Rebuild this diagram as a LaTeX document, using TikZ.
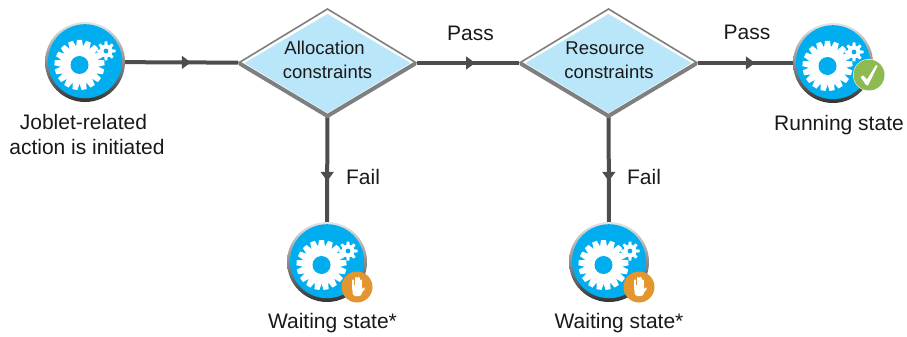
\documentclass[tikz,border=0pt]{standalone}
\usepackage{fontspec}
\setmainfont{Liberation Sans}
\usetikzlibrary{shapes.geometric,decorations.markings,arrows.meta}
\definecolor{line}{HTML}{4D4D4D}
\definecolor{bez}{HTML}{7F7F7F}
\definecolor{dfill}{HTML}{BAE6FA}
\definecolor{ico}{HTML}{00AEEF}
\definecolor{orangeb}{HTML}{E3962F}
\definecolor{greenb}{HTML}{8DBB52}
\tikzset{
 flow/.style={draw=line,line width=4pt,postaction={decorate},decoration={markings,mark=at position #1 with {\arrow[line width=1pt]{Triangle[length=9pt,width=13pt]}}}},
 dec/.style={diamond,minimum width=179pt,minimum height=108pt,aspect=1.657,inner sep=0pt},
 iconnode/.style={circle,minimum size=80pt,inner sep=0pt},
 lbl/.style={font=\fontsize{21}{25}\selectfont,inner sep=0pt,align=center,text=black!90},
 dlbl/.style={font=\fontsize{18.5}{24}\selectfont,inner sep=0pt,align=center,text=black!90},
}
\newcommand{\bigwheel}[1]{%
  \foreach \a in {0,21.18,...,359}{
    \fill[white,shift={#1},rotate=\a] (-3.6,-17.5) -- (-2.5,-25) -- (2.5,-25) -- (3.6,-17.5) -- cycle;
  }
  \fill[white] #1 circle (19);
  \fill[ico] #1 circle (9);
}
\newcommand{\smallwheel}[1]{%
  \foreach \a in {0,45,...,359}{
    \fill[white,shift={#1},rotate=\a] (-1.8,-5) -- (-1.3,-9.5) -- (1.3,-9.5) -- (1.8,-5) -- cycle;
  }
  \fill[white] #1 circle (6.3);
  \fill[ico] #1 circle (2.4);
}
\newcommand{\icondraw}[1]{%
  \begin{scope}[shift={(#1)}]
  \shade[top color=black!10,bottom color=black!80] (0,0) circle (40);
  \fill[ico] (0,-0.8) circle (37);
  \smallwheel{(21,-11)}
  \bigwheel{(-5.5,3)}
  \end{scope}
}
\newcommand{\hand}[1]{%
  \begin{scope}[shift={(#1)}]
  \fill[orangeb] (0,0) circle (15.5);
  \fill[white,rounded corners=2.5pt] (-5.2,-2) -- (5.2,-2) -- (4.6,9) -- (-4,9) -- cycle;
  \draw[white,line width=2.2pt,line cap=round] (-4.1,1) -- (-4.1,-6.5);
  \draw[white,line width=2.2pt,line cap=round] (-1.4,1) -- (-1.4,-9);
  \draw[white,line width=2.2pt,line cap=round] (1.4,1) -- (1.4,-9);
  \draw[white,line width=2.2pt,line cap=round] (4.1,1) -- (4.1,-6.5);
  \draw[white,line width=2.2pt,line cap=round] (4.6,4.5) -- (6.8,1.5);
  \end{scope}
}
\newcommand{\tick}[1]{%
  \begin{scope}[shift={(#1)}]
  \fill[white] (0,0) circle (16);
  \fill[greenb] (0,0) circle (15.5);
  \fill[white] (-8.5,2) -- (-6,0.5) -- (-2,4.5) -- (7,-10) -- (8.5,-9) -- (-1,10.5) -- (-3,10) -- cycle;
  \end{scope}
}
\newcommand{\diamonddraw}[1]{%
  \begin{scope}[shift={(#1)}]
  \fill[white] (-89,0) -- (0,-53) -- (89,0) -- (0,54) -- cycle;
  \fill[dfill] (-83,0) -- (0,-49) -- (83,0) -- (0,50) -- cycle;
  \draw[bez,line width=1.6pt,line join=miter] (-89,0) -- (0,-54) -- (89,0);
  \draw[bez,line width=4pt,line join=miter,line cap=round] (-87,1) -- (0,53) -- (87,1);
  \end{scope}
}
\begin{document}
\begin{tikzpicture}[x=1pt,y=-1pt]
\useasboundingbox (0,0) rectangle (907,337);
\node[iconnode] (start) at (85,62) {};
\node[iconnode] (wait1) at (327,262) {};
\node[iconnode] (wait2) at (609,262) {};
\node[iconnode] (run) at (833,63) {};
\node[dec] (d1) at (327.5,63) {};
\node[dec] (d2) at (608.5,63) {};
\draw[flow=0.58] (start) -- (d1);
\draw[flow=0.57] (d1) -- (d2);
\draw[flow=0.60] (d2) -- (run);
\draw[flow=0.61] (d1) -- (wait1);
\draw[flow=0.61] (d2) -- (wait2);
\diamonddraw{d1}
\diamonddraw{d2}
\icondraw{start}
\icondraw{wait1}
\icondraw{wait2}
\icondraw{run}
\hand{357,287}
\hand{639,287}
\tick{869,75}
\node[dlbl] at (324.6,48) {Allocation};
\node[dlbl] at (327.5,72) {constraints};
\node[dlbl] at (605,48) {Resource};
\node[dlbl] at (609,72) {constraints};
\node[lbl] at (470.5,33) {Pass};
\node[lbl] at (747,32) {Pass};
\node[lbl] at (363,177) {Fail};
\node[lbl] at (644,177) {Fail};
\node[lbl] at (83.5,122) {Joblet-related};
\node[lbl] at (87,147) {action is initiated};
\node[lbl] at (839,125) {Running state};
\node[lbl] at (332.5,323) {Waiting state*};
\node[lbl] at (619,323) {Waiting state*};
\end{tikzpicture}
\end{document}
